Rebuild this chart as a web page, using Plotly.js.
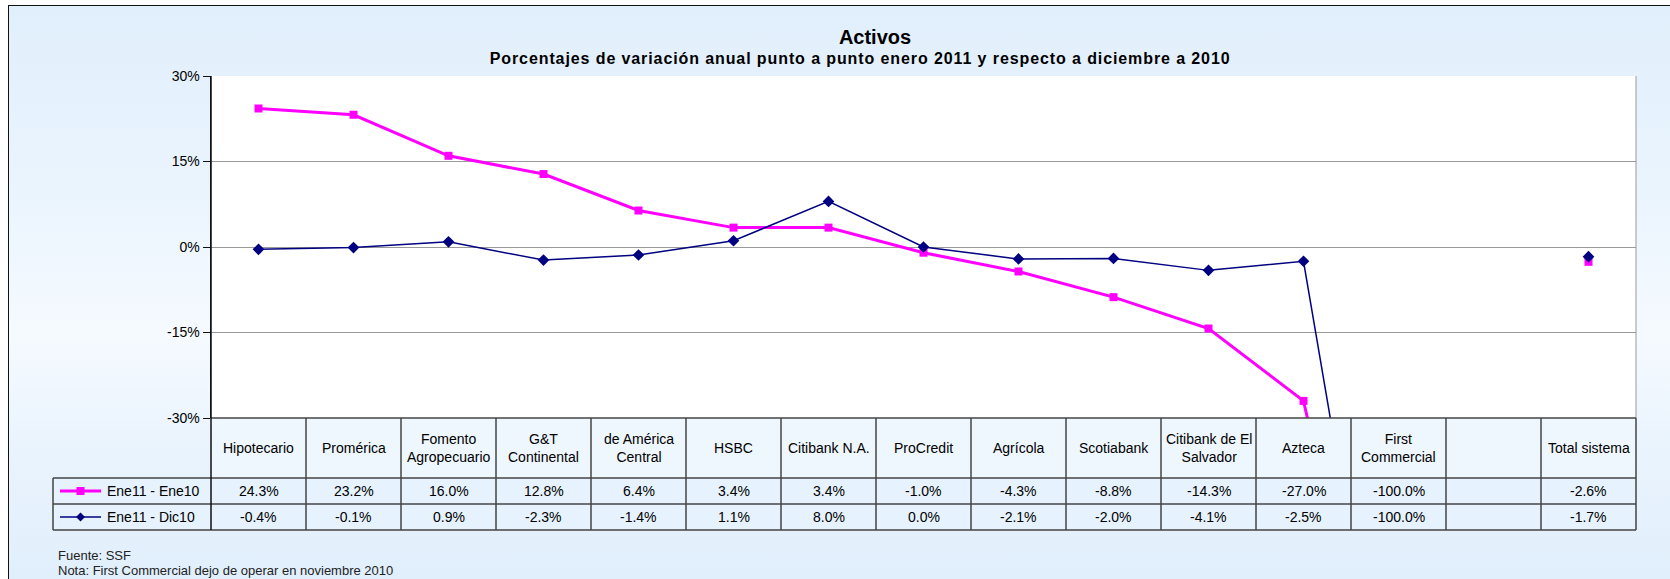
<!DOCTYPE html>
<html>
<head>
<meta charset="utf-8">
<script src="https://cdn.plot.ly/plotly-3.0.1.min.js"></script>
<style>
  html, body { margin: 0; padding: 0; background: #ffffff; }
  #wrap { position: relative; width: 1670px; height: 579px; overflow: hidden; }
  #bg { position: absolute; left: 8px; top: 5px; width: 1670px; height: 600px;
        border-left: 1.5px solid #111; border-top: 1.5px solid #111;
        background: linear-gradient(to bottom, #e1effc 0%, #e8f3fd 25%, #f5faff 55%, #e9f3fd 75%, #e1effc 95%); }
  #chart { position: absolute; left: 0; top: 0; width: 1670px; height: 579px; }
  #chart g.annotation[data-index="0"] text { letter-spacing: 0.9px; }
</style>
</head>
<body>
<div id="wrap">
  <div id="bg"></div>
  <div id="chart"></div>
</div>
<script>
// ---- data ----
const categories = ['Hipotecario', 'Promérica', 'Fomento<br>Agropecuario', 'G&T<br>Continental',
  'de América<br>Central', 'HSBC', 'Citibank N.A.', 'ProCredit', 'Agrícola', 'Scotiabank',
  'Citibank de El<br>Salvador', 'Azteca', 'First<br>Commercial', '', 'Total sistema'];
const seriesNames = ['Ene11 - Ene10', 'Ene11 - Dic10'];
const eneEne = [24.3, 23.2, 16.0, 12.8, 6.4, 3.4, 3.4, -1.0, -4.3, -8.8, -14.3, -27.0, -100.0, null, -2.6];
const eneDic = [-0.4, -0.1, 0.9, -2.3, -1.4, 1.1, 8.0, 0.0, -2.1, -2.0, -4.1, -2.5, -100.0, null, -1.7];
const yTicks = [-30, -15, 0, 15, 30];
const titleText = 'Activos';
const subtitleText = 'Porcentajes de variación anual punto a punto enero 2011 y respecto a diciembre a 2010';
const notes = ['Fuente: SSF', 'Nota: First Commercial dejo de operar en noviembre 2010'];

// ---- geometry ----
const FIG_W = 1670, FIG_H = 579;
const L = 211, R = 34, T = 76, B = 161;
const PW = FIG_W - L - R, PH = FIG_H - T - B;
const n = categories.length;
const px = x => (x - L) / PW;          // pixel -> paper x
const py = y => (T + PH - y) / PH;     // pixel -> paper y
const colX = i => i / n;               // column boundary in paper x (axis range -0.5..n-0.5)

const FONT = '"Liberation Sans", Arial, Helvetica, sans-serif';
const PINK = '#ff00ff', NAVY = '#000080';
const xs = categories.map((c, i) => i);
const fmt = v => (v === null ? '' : v.toFixed(1) + '%');

const traces = [
  { x: xs, y: eneEne, name: seriesNames[0], type: 'scatter', mode: 'lines+markers',
    line: { color: PINK, width: 3 }, marker: { symbol: 'square', size: 8, color: PINK },
    connectgaps: false, hoverinfo: 'skip' },
  { x: xs, y: eneDic, name: seriesNames[1], type: 'scatter', mode: 'lines+markers',
    line: { color: NAVY, width: 1.5 }, marker: { symbol: 'diamond', size: 9, color: NAVY },
    connectgaps: false, hoverinfo: 'skip' }
];

// table rows (pixel y)
const yHeadTop = 418, yHeadBot = 478, yR1Bot = 504, yR2Bot = 530;
const xLegL = 53;
const lineCol = '#444';
const shapes = [];
const annotations = [];

// subtitle first (index 0 used by CSS), then notes
annotations.push({ xref: 'paper', yref: 'paper', x: px(860), y: py(59), xanchor: 'center', yanchor: 'middle',
  text: '<b>' + subtitleText + '</b>', showarrow: false, font: { family: FONT, size: 16, color: '#000' } });
notes.forEach((t, k) => annotations.push({ xref: 'paper', yref: 'paper', x: px(56), y: py(555 + 15.5 * k),
  xanchor: 'left', yanchor: 'middle', text: t, showarrow: false, font: { family: FONT, size: 13, color: '#222' } }));

// cell fills
for (let i = 0; i < n; i++) {
  shapes.push({ type: 'rect', xref: 'paper', yref: 'paper', x0: colX(i), x1: colX(i + 1),
    y0: py(yHeadBot), y1: py(yHeadTop), fillcolor: '#eef6fe', line: { width: 0 }, layer: 'below' });
}
shapes.push({ type: 'rect', xref: 'paper', yref: 'paper', x0: px(xLegL), x1: 1,
  y0: py(yR2Bot), y1: py(yHeadBot), fillcolor: '#e6f2fd', line: { width: 0 }, layer: 'below' });

// right plot border
shapes.push({ type: 'line', xref: 'paper', yref: 'paper', x0: 1, x1: 1, y0: 0, y1: 1,
  line: { color: '#999', width: 1 } });
// table horizontal lines
shapes.push({ type: 'line', xref: 'paper', yref: 'paper', x0: 0, x1: 1, y0: 0, y1: 0,
  line: { color: lineCol, width: 1.5 } });
[yHeadBot, yR1Bot, yR2Bot].forEach(yy => shapes.push({ type: 'line', xref: 'paper', yref: 'paper',
  x0: px(xLegL), x1: 1, y0: py(yy), y1: py(yy), line: { color: lineCol, width: 1.5 } }));
// table vertical lines
for (let i = 0; i <= n; i++) {
  shapes.push({ type: 'line', xref: 'paper', yref: 'paper', x0: colX(i), x1: colX(i),
    y0: py(yR2Bot), y1: (i === 0 ? 1 : 0), line: { color: i === 0 ? '#111' : lineCol, width: 1.5 } });
}
shapes.push({ type: 'line', xref: 'paper', yref: 'paper', x0: px(xLegL), x1: px(xLegL),
  y0: py(yR2Bot), y1: py(yHeadBot), line: { color: lineCol, width: 1.5 } });

// legend keys inside table
const rowMid = [(yHeadBot + yR1Bot) / 2, (yR1Bot + yR2Bot) / 2];
const keyX0 = 60, keyX1 = 101, keyXc = 80.5;
shapes.push({ type: 'line', xref: 'paper', yref: 'paper', x0: px(keyX0), x1: px(keyX1),
  y0: py(rowMid[0]), y1: py(rowMid[0]), line: { color: PINK, width: 3 } });
shapes.push({ type: 'rect', xref: 'paper', yref: 'paper', x0: px(keyXc - 4), x1: px(keyXc + 4),
  y0: py(rowMid[0] + 4), y1: py(rowMid[0] - 4), fillcolor: PINK, line: { width: 0 } });
shapes.push({ type: 'line', xref: 'paper', yref: 'paper', x0: px(keyX0), x1: px(keyX1),
  y0: py(rowMid[1]), y1: py(rowMid[1]), line: { color: NAVY, width: 1.5 } });
const d = 4.5, m = rowMid[1];
shapes.push({ type: 'path', xref: 'paper', yref: 'paper',
  path: `M ${px(keyXc)} ${py(m - d)} L ${px(keyXc + d)} ${py(m)} L ${px(keyXc)} ${py(m + d)} L ${px(keyXc - d)} ${py(m)} Z`,
  fillcolor: NAVY, line: { width: 0 } });

seriesNames.forEach((s, k) => annotations.push({ xref: 'paper', yref: 'paper', x: px(105), y: py(rowMid[k]),
  xanchor: 'left', yanchor: 'middle', text: s, showarrow: false, font: { family: FONT, size: 14, color: '#000' } }));

// header labels + values
categories.forEach((c, i) => {
  annotations.push({ xref: 'x', yref: 'paper', x: i, y: py((yHeadTop + yHeadBot) / 2),
    xanchor: 'center', yanchor: 'middle', text: c, showarrow: false,
    font: { family: FONT, size: 14, color: '#000' } });
  [eneEne, eneDic].forEach((arr, k) => annotations.push({ xref: 'x', yref: 'paper', x: i, y: py(rowMid[k]),
    xanchor: 'center', yanchor: 'middle', text: fmt(arr[i]), showarrow: false,
    font: { family: FONT, size: 14, color: '#000' } }));
});

const layout = {
  width: FIG_W, height: FIG_H,
  margin: { l: L, r: R, t: T, b: B, pad: 0 },
  paper_bgcolor: 'rgba(0,0,0,0)', plot_bgcolor: '#ffffff',
  showlegend: false,
  title: { text: '<b>' + titleText + '</b>', x: 875 / FIG_W, xanchor: 'center', xref: 'container',
    y: 1 - 37 / FIG_H, yanchor: 'middle', yref: 'container',
    font: { family: FONT, size: 20, color: '#000' } },
  xaxis: { range: [-0.5, n - 0.5], showgrid: false, zeroline: false, showline: false,
    showticklabels: false, ticks: '', fixedrange: true },
  yaxis: { range: [-30, 30], tickvals: yTicks, ticktext: yTicks.map(v => v + '%'),
    showgrid: true, gridcolor: '#999', gridwidth: 1, zeroline: false,
    showline: true, linecolor: '#111', linewidth: 1.5, ticks: 'outside', ticklen: 7, tickcolor: '#111',
    tickfont: { family: FONT, size: 14, color: '#000' }, fixedrange: true },
  shapes: shapes,
  annotations: annotations
};

Plotly.newPlot('chart', traces, layout, { staticPlot: true, displayModeBar: false });
</script>
</body>
</html>
